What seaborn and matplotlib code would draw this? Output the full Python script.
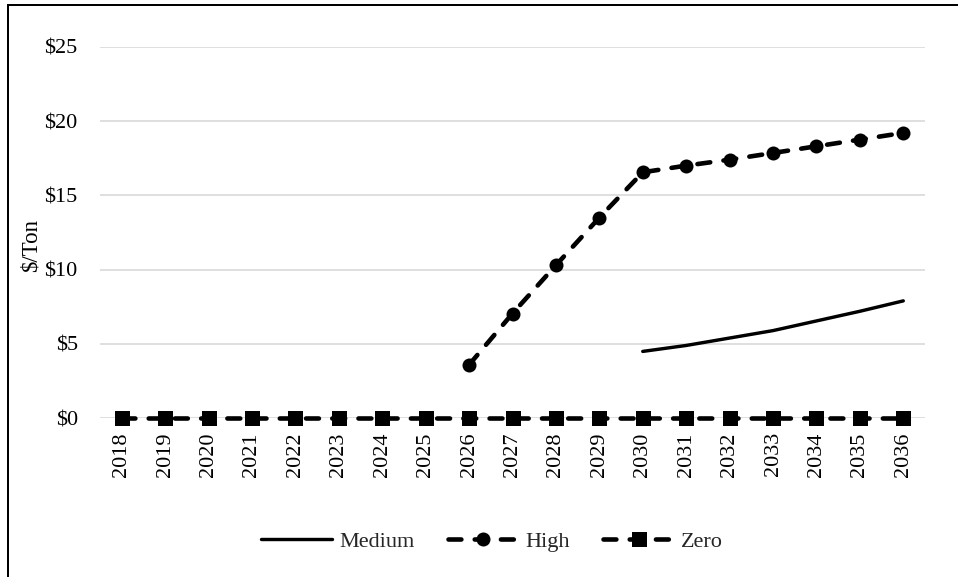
import numpy as np
import pandas as pd
import matplotlib
matplotlib.use("Agg")
import matplotlib.pyplot as plt
from matplotlib.patches import Rectangle
import seaborn as sns

years = list(range(2018, 2037))
medium = [np.nan] * 12 + [4.5, 4.9, 5.4, 5.9, 6.55, 7.2, 7.9]
high = [np.nan] * 8 + [3.6, 7.05, 10.3, 13.5, 16.55, 17.0, 17.4, 17.85, 18.3, 18.75, 19.2]
zero = [0.0] * 19
series_names = ["Medium", "High", "Zero"]
y_ticks = [0, 5, 10, 15, 20, 25]
y_label = "\\$/Ton"

sns.set_theme(style="white")
plt.rcParams["font.family"] = ["Liberation Serif", "DejaVu Serif"]

W, H, DPI = 958, 577, 100
fig = plt.figure(figsize=(W / DPI, H / DPI), dpi=DPI)
ax = fig.add_axes([100 / W, 1 - 418.3 / H, 825 / W, (418.3 - 46.7) / H])

df = pd.DataFrame({"Year": years, "Medium": medium, "High": high, "Zero": zero})

px = 72 / DPI  # points per pixel
lw = 4.6 * px
dash = (0, (2.8, 2.9))
sns.lineplot(data=df, x="Year", y="Medium", ax=ax, color="black", lw=3.4 * px,
             solid_capstyle="round", label="Medium", clip_on=False)
sns.lineplot(data=df, x="Year", y="High", ax=ax, color="black", lw=lw,
             linestyle=dash, dash_capstyle="round", clip_on=False,
             marker="o", markersize=14 * px, markeredgewidth=0, label="High")
sns.lineplot(data=df, x="Year", y="Zero", ax=ax, color="black", lw=lw,
             linestyle=dash, dash_capstyle="round", clip_on=False,
             marker="s", markersize=15 * px, markeredgewidth=0, label="Zero")

ax.set_xlim(years[0] - 0.5, years[-1] + 0.5)
ax.set_ylim(0, 25)
ax.set_xticks(years)
ax.set_xticklabels([str(y) for y in years], rotation=90)
ax.set_yticks(y_ticks)
ax.set_yticklabels(["\\$%d" % v for v in y_ticks])
ax.tick_params(axis="both", length=0, labelsize=16, colors="black")
ax.tick_params(axis="y", pad=16)
ax.tick_params(axis="x", pad=10)
ax.yaxis.grid(True, color="#d9d9d9", lw=1.2)
ax.set_axisbelow(True)
for s in ax.spines.values():
    s.set_visible(False)

ax.set_xlabel("")
ax.set_ylabel(y_label, fontsize=16.5, color="black")
ax.yaxis.set_label_coords(-0.0703, 0.466)

ax.legend(loc="center", bbox_to_anchor=(492 / W, 1 - 542 / H), bbox_transform=fig.transFigure,
          ncol=3, frameon=False, fontsize=16, handlelength=3.2, handletextpad=0.3,
          columnspacing=1.5)

fig.add_artist(Rectangle((8 / W, -0.1), 1.2, 1 - 5 / H + 0.1, transform=fig.transFigure,
                         fill=False, edgecolor="black", lw=2 * px, clip_on=False))

fig.savefig("out.png", dpi=DPI, facecolor="white")
